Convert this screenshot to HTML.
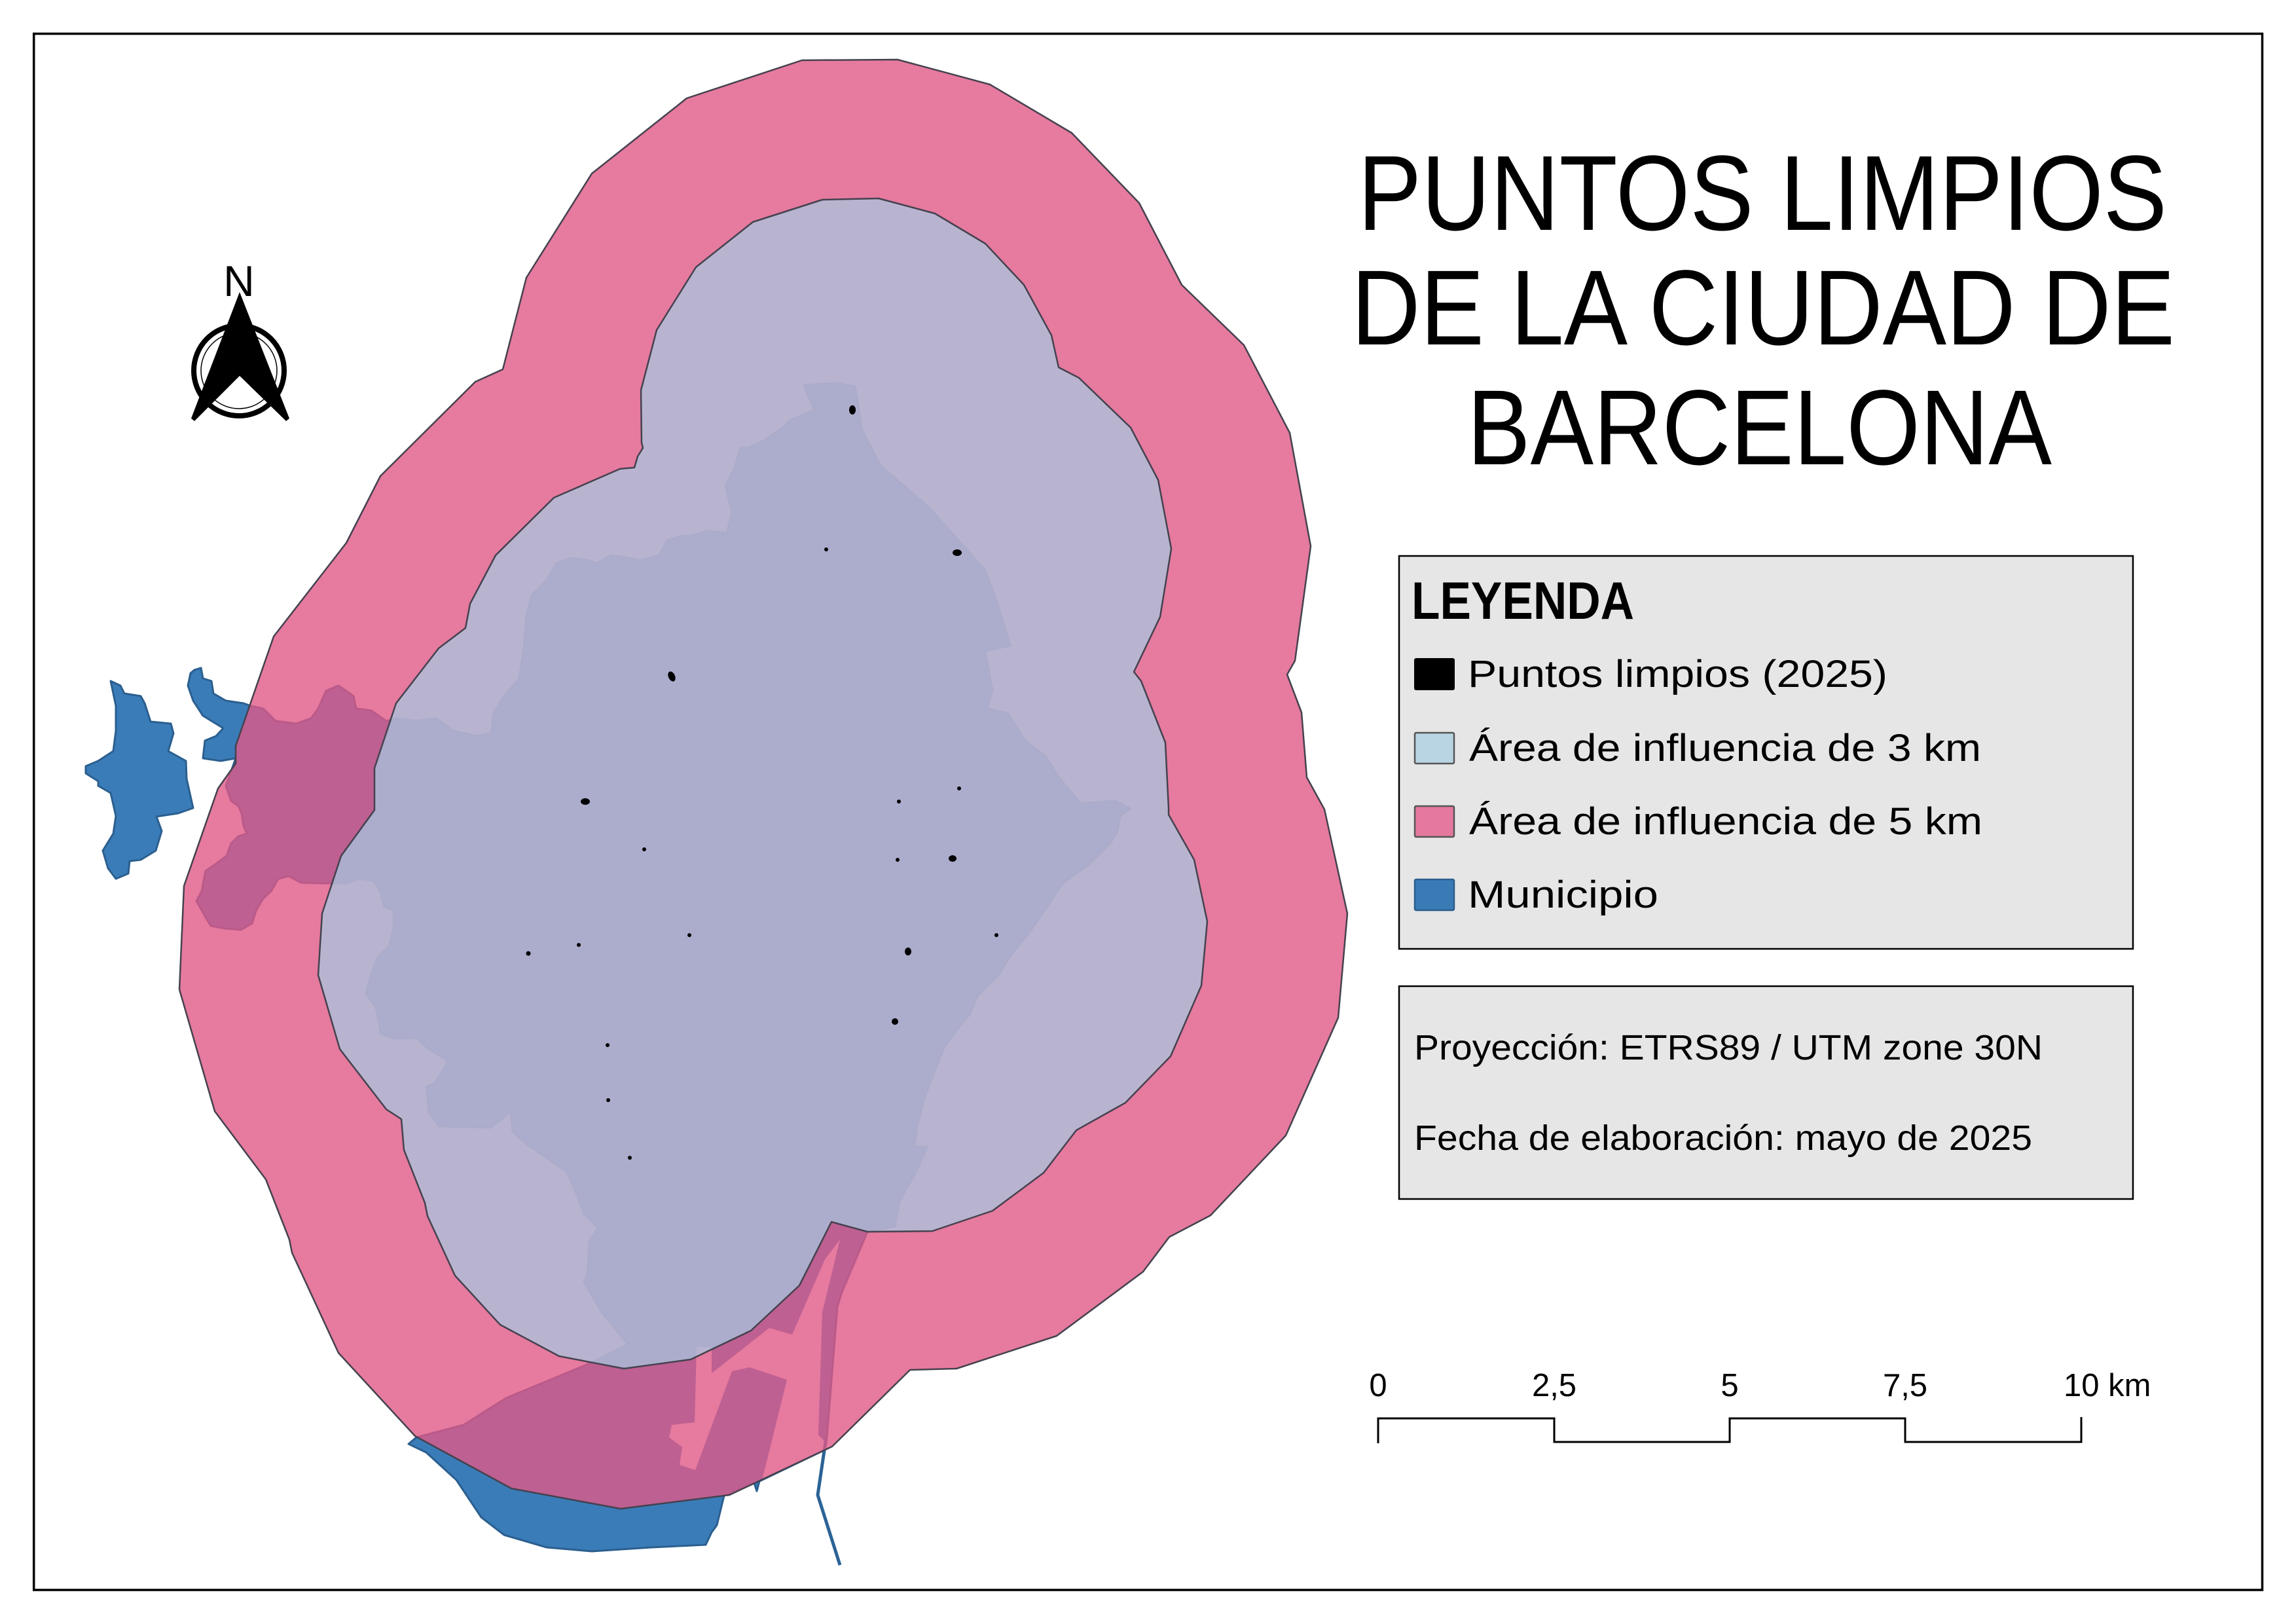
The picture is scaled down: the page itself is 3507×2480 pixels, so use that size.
<!DOCTYPE html>
<html><head><meta charset="utf-8"><style>html,body{margin:0;padding:0;background:#fff}svg{display:block}</style></head>
<body>
<svg width="3507" height="2480" viewBox="0 0 3507 2480" xmlns="http://www.w3.org/2000/svg" font-family="'Liberation Sans', sans-serif">
<rect width="3507" height="2480" fill="#ffffff"/>

<!-- Municipio -->
<g fill="#3a7cb8" stroke="#2b5f8f" stroke-width="3" stroke-linejoin="round">
<polygon points="1229,588 1275,585 1306,590 1317,657 1344,710 1420,776 1505,871 1527,932 1543,986 1505,994 1516,1055 1508,1082 1539,1089 1566,1131 1596,1154 1616,1185 1650,1227 1704,1223 1727,1235 1711,1246 1707,1269 1696,1288 1665,1319 1623,1349 1600,1384 1574,1422 1543,1460 1524,1491 1493,1521 1482,1548 1466,1567 1443,1598 1428,1636 1413,1674 1401,1720 1397,1751 1417,1751 1397,1793 1374,1835 1367,1873 1325,1881 1286,1973 1279,1996 1263,2195 1260,2214 1160,2262 1156,2277 1152,2265 1106,2284 1095,2329 1087,2340 1078,2359 995,2363 904,2369 835,2363 770,2344 735,2317 697,2260 651,2218 624,2205 636,2195 708,2176 773,2135 896,2084 959,2053 919,2004 892,1958 897,1946 900,1896 913,1875 892,1854 881,1824 865,1789 804,1747 783,1728 780,1697 750,1722 670,1720 655,1697 651,1659 663,1655 685,1621 655,1602 636,1585 601,1586 582,1579 574,1537 559,1518 567,1487 578,1460 594,1445 601,1418 601,1391 586,1384 582,1365 571,1345 548,1342 529,1349 498,1349 460,1348 441,1338 425,1342 414,1361 402,1372 391,1391 385,1410 368,1420 345,1418 322,1414 313,1399 300,1376 308,1361 314,1330 330,1319 346,1307 353,1288 364,1277 377,1273 372,1261 369,1242 364,1231 353,1223 345,1200 360,1158 337,1162 310,1158 313,1131 330,1124 341,1112 310,1093 295,1070 287,1047 291,1028 297,1023 307,1020 310,1036 323,1040 326,1059 345,1070 372,1074 383,1078 402,1082 421,1101 452,1105 475,1097 486,1082 498,1055 517,1047 540,1063 544,1082 567,1085 590,1101 605,1097 636,1101 666,1097 693,1116 728,1124 750,1120 754,1089 770,1063 793,1036 800,990 804,940 812,909 835,886 850,860 873,852 900,856 911,860 934,848 961,852 977,856 1007,848 1019,825 1042,818 1057,818 1080,810 1110,814 1118,783 1108,741 1122,714 1131,684 1143,684 1168,672 1195,653 1206,642 1244,626 1229,592"/>
<polygon points="169,1040 184,1047 190,1059 215,1063 221,1074 230,1102 261,1105 265,1120 257,1147 284,1162 285,1189 295,1234 272,1242 239,1247 247,1269 238,1299 215,1313 198,1315 196,1334 177,1342 165,1326 157,1299 173,1273 177,1246 169,1211 150,1200 150,1193 131,1181 131,1170 150,1162 173,1147 177,1116 177,1078"/>
</g>
<!-- port water -->
<polygon fill="#ffffff" points="1064,2057 1087,2057 1087,2097 1175,2028 1210,2038 1260,1923 1283,1893 1256,2004 1250,2191 1267,2209 1164,2260 1202,2107 1145,2088 1118,2094 1062,2245 1038,2237 1042,2210 1022,2195 1026,2176 1061,2172"/>
<polyline fill="none" stroke="#2b6396" stroke-width="5" stroke-linejoin="round" points="1262,2195 1249,2283 1283,2390"/>

<!-- 5 km buffer -->
<polygon fill="#e05987" fill-opacity="0.8" stroke="#45424f" stroke-width="2.5" stroke-linejoin="round" points="1225,92 1371,91 1512,129 1637,203 1740,310 1805,435 1900,527 1970,661 2002,834 1978,1009 1966,1030 1988,1088 1996,1187 2023,1236 2058,1395 2044,1554 1964,1734 1849,1856 1786,1889 1746,1942 1614,2040 1461,2090 1390,2092 1271,2209 1114,2283 948,2304 781,2273 634,2193 517,2066 446,1913 442,1893 406,1801 328,1697 274,1511 281,1353 333,1204 360,1166 360,1139 418,972 529,829 581,727 726,583 768,564 804,424 904,265 1049,150"/>
<!-- 3 km buffer -->
<polygon fill="#a4cde5" fill-opacity="0.7" stroke="#45424f" stroke-width="2.5" stroke-linejoin="round" points="1256,305 1342,303 1428,326 1505,372 1564,435 1606,512 1617,561 1648,577 1727,653 1769,733 1789,838 1772,942 1732,1026 1743,1040 1780,1134 1785,1235 1785,1244 1824,1313 1844,1407 1835,1505 1788,1613 1719,1684 1644,1726 1594,1791 1516,1849 1424,1880 1325,1881 1270,1866 1221,1963 1147,2032 1055,2076 953,2090 854,2071 764,2023 695,1948 653,1857 649,1837 617,1756 613,1709 590,1694 519,1602 486,1489 492,1395 521,1307 572,1237 572,1173 605,1074 670,990 711,959 718,922 757,848 846,760 947,716 969,714 974,697 982,684 980,676 979,596 1003,504 1063,408 1150,339"/>

<!-- Puntos limpios -->
<g fill="#000">
<ellipse cx="1302" cy="626" rx="5" ry="7"/>
<ellipse cx="1462" cy="844" rx="7" ry="5"/>
<ellipse cx="1026" cy="1033" rx="5" ry="8" transform="rotate(-25 1026 1033)"/>
<ellipse cx="894" cy="1224" rx="7" ry="5"/>
<ellipse cx="1455" cy="1311" rx="6" ry="5"/>
<ellipse cx="1387" cy="1453" rx="5" ry="6"/>
<ellipse cx="1367" cy="1560" rx="5" ry="5"/>
<circle cx="1262" cy="839" r="3"/>
<circle cx="1465" cy="1204" r="3"/>
<circle cx="1373" cy="1224" r="3"/>
<circle cx="984" cy="1297" r="3"/>
<circle cx="1371" cy="1313" r="3"/>
<circle cx="1053" cy="1428" r="3"/>
<circle cx="1522" cy="1428" r="3"/>
<circle cx="807" cy="1456" r="3.5"/>
<circle cx="884" cy="1443" r="3"/>
<circle cx="928" cy="1596" r="3"/>
<circle cx="929" cy="1680" r="3"/>
<circle cx="962" cy="1768" r="3"/>
</g>

<!-- North arrow -->
<circle cx="365" cy="566" r="69" fill="none" stroke="#000" stroke-width="8"/>
<circle cx="365" cy="566" r="58" fill="none" stroke="#000" stroke-width="1.5"/>
<polygon fill="#000" points="366,446 442,639 437,643 366,574 297,643 292,639"/>
<text x="365" y="452" font-size="66" text-anchor="middle" fill="#000">N</text>

<!-- Title -->
<g fill="#000" font-size="163">
<text x="2074" y="351" textLength="1236" lengthAdjust="spacingAndGlyphs">PUNTOS LIMPIOS</text>
<text x="2064" y="526" textLength="1258" lengthAdjust="spacingAndGlyphs">DE LA CIUDAD DE</text>
<text x="2241" y="709" textLength="893" lengthAdjust="spacingAndGlyphs">BARCELONA</text>
</g>

<!-- Legend -->
<rect x="2137" y="849" width="1121" height="600" fill="#e6e6e6" stroke="#000" stroke-width="2.5"/>
<text x="2156" y="945" font-size="81" font-weight="bold" textLength="340" lengthAdjust="spacingAndGlyphs">LEYENDA</text>
<rect x="2160" y="1005" width="62" height="49" rx="3" fill="#000"/>
<rect x="2161" y="1119" width="60" height="47" rx="2" fill="#b9d5e3" stroke="#555" stroke-width="2.5"/>
<rect x="2161" y="1231" width="60" height="47" rx="2" fill="#e5789e" stroke="#555" stroke-width="2.5"/>
<rect x="2161" y="1343" width="60" height="47" rx="2" fill="#3a7bb6" stroke="#2a5d8d" stroke-width="2.5"/>
<g font-size="58" fill="#000">
<text x="2242" y="1049" textLength="641" lengthAdjust="spacingAndGlyphs">Puntos limpios (2025)</text>
<text x="2244" y="1162" textLength="782" lengthAdjust="spacingAndGlyphs">Área de influencia de 3 km</text>
<text x="2244" y="1274" textLength="784" lengthAdjust="spacingAndGlyphs">Área de influencia de 5 km</text>
<text x="2242" y="1386" textLength="291" lengthAdjust="spacingAndGlyphs">Municipio</text>
</g>

<!-- Info box -->
<rect x="2137" y="1506" width="1121" height="325" fill="#e6e6e6" stroke="#000" stroke-width="2.5"/>
<g font-size="54" fill="#000">
<text x="2160" y="1618" textLength="960" lengthAdjust="spacingAndGlyphs">Proyección: ETRS89 / UTM zone 30N</text>
<text x="2160" y="1756" textLength="944" lengthAdjust="spacingAndGlyphs">Fecha de elaboración: mayo de 2025</text>
</g>

<!-- Scale bar -->
<g fill="#000" font-size="49" text-anchor="middle">
<text x="2105" y="2132">0</text>
<text x="2374" y="2132">2,5</text>
<text x="2642" y="2132">5</text>
<text x="2910" y="2132">7,5</text>
<text x="3152" y="2132" text-anchor="start">10 km</text>
</g>
<g fill="none" stroke="#000" stroke-width="3">
<polyline points="2105,2204 2105,2166 2374,2166 2374,2202 2642,2202 2642,2166 2910,2166 2910,2202 3179,2202 3179,2164"/>
</g>

<!-- Frame -->
<rect x="51.7" y="51.5" width="3403.8" height="2376.5" fill="none" stroke="#000" stroke-width="3.5"/>
</svg>
</body></html>
